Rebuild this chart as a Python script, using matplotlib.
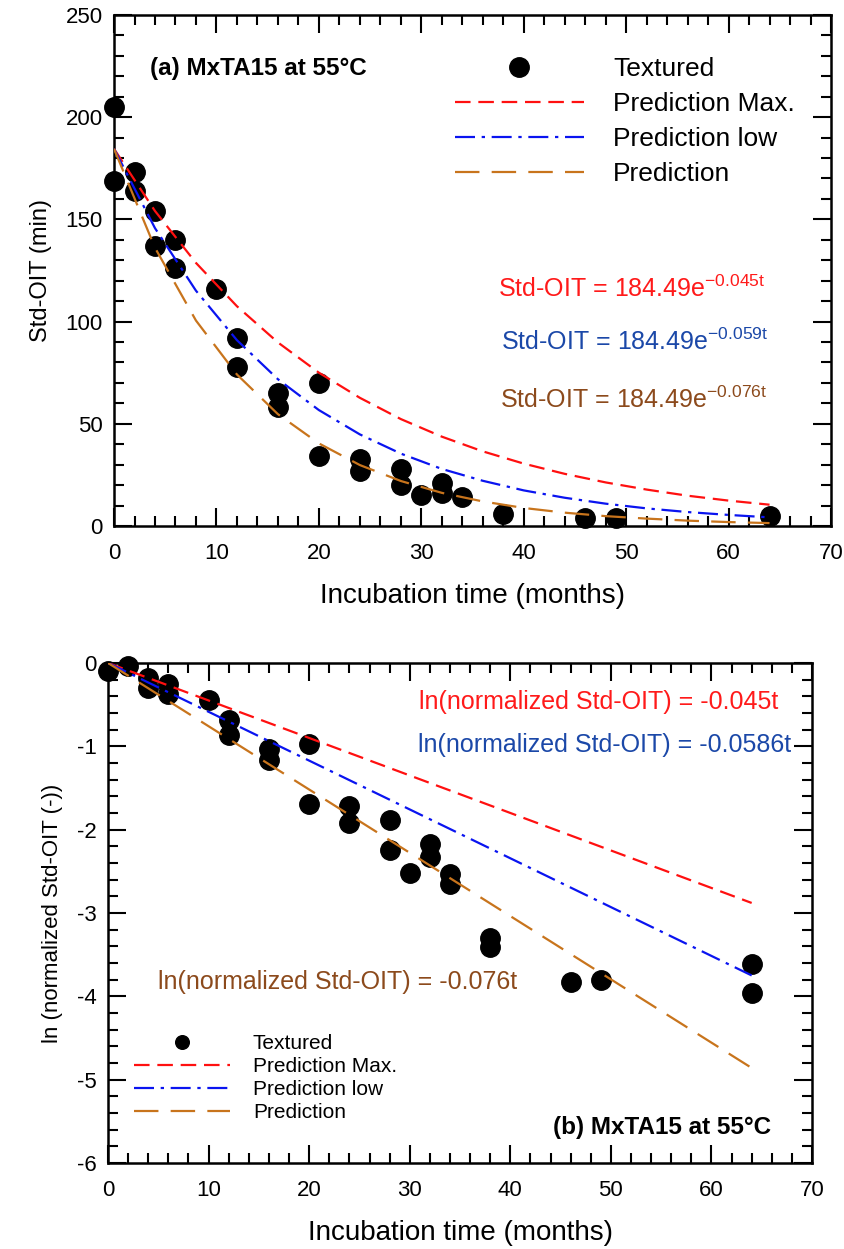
import numpy as np
import matplotlib
matplotlib.use('Agg')
import matplotlib.pyplot as plt
from matplotlib.ticker import MultipleLocator

plt.rcParams['font.family'] = ['Liberation Sans', 'DejaVu Sans']
plt.rcParams['mathtext.fontset'] = 'custom'
plt.rcParams['mathtext.rm'] = 'Liberation Sans'
plt.rcParams['mathtext.it'] = 'Liberation Sans'
plt.rcParams['axes.unicode_minus'] = False

# ── data: panel (a) ─────────────────────────────────────────
t_a = [0, 0, 2, 2, 4, 4, 6, 6, 10, 12, 12, 16, 16, 20, 20, 24, 24,
       28, 28, 30, 32, 32, 34, 38, 46, 49, 64]
oit_a = [205, 169, 173, 164, 154, 137, 140, 126, 116, 92, 78, 65, 58, 70, 34,
         33, 27, 28, 20, 15, 21, 16, 14, 6, 4, 4, 5]

# prediction curves (Std-OIT = 184.49 e^-kt), read every 4 months
t_pred = [0, 4, 8, 12, 16, 20, 24, 28, 32, 36, 40, 44, 48, 52, 56, 60, 64]
pred_max = [184.5, 154.1, 128.7, 107.5, 89.8, 75.0, 62.7, 52.3, 43.7, 36.5,
            30.5, 25.5, 21.3, 17.8, 14.8, 12.4, 10.4]
pred_low = [184.5, 145.7, 115.1, 90.9, 71.8, 56.7, 44.8, 35.4, 27.9, 22.1,
            17.4, 13.8, 10.9, 8.6, 6.8, 5.4, 4.2]
pred_mid = [184.5, 136.1, 100.5, 74.1, 54.7, 40.4, 29.8, 22.0, 16.2, 12.0,
            8.8, 6.5, 4.8, 3.6, 2.6, 1.9, 1.4]

# ── data: panel (b) ─────────────────────────────────────────
t_b = [0, 2, 4, 4, 6, 6, 10, 12, 12, 16, 16, 20, 20, 24, 24, 28, 28, 30,
       32, 32, 34, 34, 38, 38, 46, 49, 64, 64]
ln_b = [-0.10, -0.04, -0.18, -0.30, -0.25, -0.37, -0.45, -0.69, -0.87, -1.03,
        -1.17, -0.97, -1.69, -1.72, -1.92, -1.89, -2.25, -2.52, -2.17, -2.33,
        -2.53, -2.65, -3.30, -3.41, -3.83, -3.81, -3.61, -3.96]

t_line = [0, 64]
ln_max = [0, -2.88]
ln_low = [0, -3.75]
ln_mid = [0, -4.86]

labels = ['Textured', 'Prediction Max.', 'Prediction low', 'Prediction']

RED = '#ff1010'
BLUE = '#0a14f0'
BROWN = '#c8741c'
RED_T = '#ff1a1a'
BLUE_T = '#1b48a8'
BROWN_T = '#8c4a1c'

DASH_RED = (7, 3.5)
DASH_BLUE = (9, 3, 1.5, 3)
DASH_BROWN = (11, 5.5)


def style_axes(ax, xmaj, xmin, ymaj, ymin):
    ax.xaxis.set_major_locator(MultipleLocator(xmaj))
    ax.xaxis.set_minor_locator(MultipleLocator(xmin))
    ax.yaxis.set_major_locator(MultipleLocator(ymaj))
    ax.yaxis.set_minor_locator(MultipleLocator(ymin))
    ax.tick_params(which='both', direction='in', top=True, right=True, width=1.5)
    ax.tick_params(which='major', length=13, labelsize=16)
    ax.tick_params(which='minor', length=7)
    ax.tick_params(axis='x', pad=12)
    ax.tick_params(axis='y', pad=8)
    for s in ax.spines.values():
        s.set_linewidth(1.8)


fig = plt.figure(figsize=(8.44, 12.49), dpi=100)

# ── FIGURE (a) ─────────────────────────────────────────────
ax1 = fig.add_axes([0.1351, 0.5789, 0.8495, 0.4091])
ax1.plot(t_a, oit_a, 'o', color='black', ms=14, clip_on=False, zorder=2,
         label=labels[0])
ax1.plot(t_pred, pred_max, color=RED, lw=1.6, dashes=DASH_RED, zorder=3,
         label=labels[1])
ax1.plot(t_pred, pred_low, color=BLUE, lw=1.6, dashes=DASH_BLUE, zorder=3,
         label=labels[2])
ax1.plot(t_pred, pred_mid, color=BROWN, lw=1.6, dashes=DASH_BROWN, zorder=3,
         label=labels[3])
ax1.set_xlim(0, 70)
ax1.set_ylim(0, 250)
style_axes(ax1, 10, 2, 50, 10)
ax1.set_xlabel('Incubation time (months)', fontsize=20, labelpad=14)
ax1.set_ylabel('Std-OIT (min)', fontsize=17, labelpad=10)

ax1.text(3.5, 224, '(a) MxTA15 at 55°C', fontsize=17.5, fontweight='bold',
         va='center', ha='left')
ax1.text(37.5, 116, r'Std-OIT = 184.49e$^{\mathregular{-0.045t}}$', fontsize=18,
         color=RED_T, va='center')
ax1.text(37.8, 90, r'Std-OIT = 184.49e$^{\mathregular{-0.059t}}$', fontsize=18,
         color=BLUE_T, va='center')
ax1.text(37.7, 61.5, r'Std-OIT = 184.49e$^{\mathregular{-0.076t}}$', fontsize=18,
         color=BROWN_T, va='center')

ax1.legend(loc='upper left', bbox_to_anchor=(0.475, 0.918), frameon=False,
           fontsize=19, handlelength=4.9, handletextpad=1.1, labelspacing=0.42,
           borderpad=0, borderaxespad=0)

# ── FIGURE (b) ─────────────────────────────────────────────
ax2 = fig.add_axes([0.128, 0.0689, 0.8341, 0.4003])
ax2.plot(t_b, ln_b, 'o', color='black', ms=14, clip_on=False, zorder=2,
         label=labels[0])
ax2.plot(t_line, ln_max, color=RED, lw=1.6, dashes=DASH_RED, zorder=3,
         label=labels[1])
ax2.plot(t_line, ln_low, color=BLUE, lw=1.6, dashes=DASH_BLUE, zorder=3,
         label=labels[2])
ax2.plot(t_line, ln_mid, color=BROWN, lw=1.6, dashes=DASH_BROWN, zorder=3,
         label=labels[3])
ax2.set_xlim(0, 70)
ax2.set_ylim(-6, 0)
style_axes(ax2, 10, 2, 1, 0.2)
ax2.set_xlabel('Incubation time (months)', fontsize=20, labelpad=14)
ax2.set_ylabel('ln (normalized Std-OIT (-))', fontsize=16, labelpad=10)

ax2.text(30.9, -0.47, 'ln(normalized Std-OIT) = -0.045t', fontsize=18,
         color=RED_T, va='center')
ax2.text(30.8, -0.98, 'ln(normalized Std-OIT) = -0.0586t', fontsize=18,
         color=BLUE_T, va='center')
ax2.text(5.0, -3.83, 'ln(normalized Std-OIT) = -0.076t', fontsize=18,
         color=BROWN_T, va='center')
ax2.text(44.2, -5.58, '(b) MxTA15 at 55°C', fontsize=17.5, fontweight='bold',
         va='center', ha='left')

ax2.legend(loc='upper left', bbox_to_anchor=(0.037, 0.258), frameon=False,
           fontsize=15, handlelength=4.6, handletextpad=1.1, labelspacing=0.2,
           borderpad=0, borderaxespad=0, markerscale=0.7)

fig.savefig('out.png', dpi=100)
